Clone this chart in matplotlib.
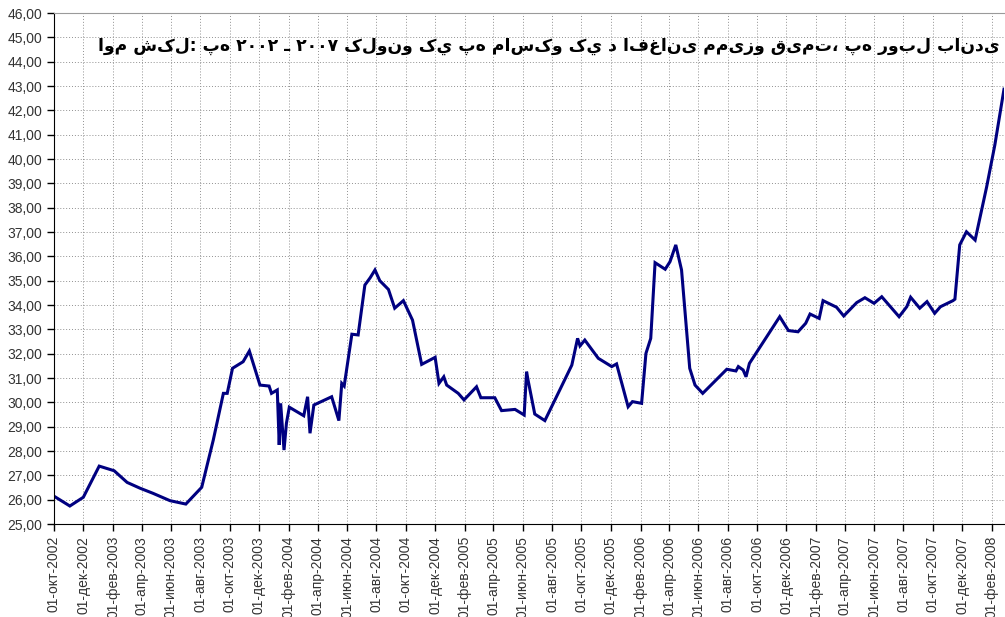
import matplotlib
matplotlib.use('Agg')
import matplotlib.pyplot as plt
import numpy as np
import pandas as pd

# afghani price in moscow, rubles
dates = ['2002-10-03', '2002-11-03', '2002-12-01', '2003-01-03', '2003-02-03',
         '2003-03-02', '2003-03-29', '2003-04-25', '2003-05-30', '2003-07-02',
         '2003-08-04', '2003-08-28', '2003-09-18', '2003-09-26', '2003-10-07',
         '2003-10-29', '2003-11-11', '2003-12-03', '2003-12-22', '2003-12-27',
         '2004-01-08', '2004-01-12', '2004-01-15', '2004-01-22', '2004-01-27',
         '2004-02-02', '2004-03-03', '2004-03-11', '2004-03-16', '2004-03-24',
         '2004-04-30', '2004-05-15', '2004-05-21', '2004-05-26', '2004-06-11',
         '2004-06-24', '2004-07-08', '2004-07-19', '2004-07-29', '2004-08-08',
         '2004-08-26', '2004-09-08', '2004-09-26', '2004-10-15', '2004-11-03',
         '2004-12-01', '2004-12-09', '2004-12-19', '2004-12-25', '2005-01-18',
         '2005-01-30', '2005-02-25', '2005-03-06', '2005-04-04', '2005-04-18',
         '2005-05-16', '2005-06-04', '2005-06-09', '2005-06-12', '2005-06-26',
         '2005-07-17', '2005-08-17', '2005-09-11', '2005-09-23', '2005-09-28',
         '2005-10-08', '2005-11-05', '2005-12-03', '2005-12-13', '2006-01-06',
         '2006-01-15', '2006-02-03', '2006-02-12', '2006-02-22', '2006-03-03',
         '2006-03-24', '2006-04-03', '2006-04-15', '2006-04-27', '2006-05-14',
         '2006-05-25', '2006-06-10', '2006-07-30', '2006-08-18', '2006-08-23',
         '2006-09-02', '2006-09-08', '2006-09-15', '2006-11-17', '2006-12-05',
         '2006-12-25', '2007-01-10', '2007-01-19', '2007-02-07', '2007-02-15',
         '2007-03-15', '2007-03-30', '2007-04-26', '2007-05-13', '2007-06-01',
         '2007-06-17', '2007-07-23', '2007-08-08', '2007-08-16', '2007-09-04',
         '2007-09-19', '2007-10-05', '2007-10-17', '2007-11-12', '2007-11-16',
         '2007-11-26', '2007-12-10', '2007-12-28', '2008-01-21', '2008-02-07',
         '2008-02-26']
price = [26.12, 25.74, 26.10, 27.38, 27.19, 26.71, 26.47, 26.26, 25.96, 25.82,
         26.51, 28.45, 30.37, 30.37, 31.40, 31.67, 32.11, 30.71, 30.67, 30.37,
         30.51, 28.25, 29.96, 28.04, 29.14, 29.80, 29.45, 30.23, 28.73, 29.89,
         30.23, 29.25, 30.78, 30.67, 32.80, 32.77, 34.82, 35.12, 35.44, 35.00,
         34.64, 33.87, 34.18, 33.38, 31.56, 31.85, 30.78, 31.05, 30.71, 30.37,
         30.10, 30.64, 30.19, 30.19, 29.66, 29.71, 29.48, 31.26, 30.92, 29.52,
         29.25, 30.51, 31.53, 32.63, 32.32, 32.56, 31.81, 31.47, 31.58, 29.82,
         30.03, 29.96, 32.01, 32.63, 35.74, 35.47, 35.78, 36.47, 35.44, 31.40,
         30.71, 30.37, 31.36, 31.29, 31.47, 31.33, 31.05, 31.60, 33.52, 32.95,
         32.90, 33.25, 33.63, 33.45, 34.18, 33.91, 33.55, 34.10, 34.30, 34.07,
         34.34, 33.52, 33.93, 34.32, 33.87, 34.14, 33.66, 33.93, 34.18, 34.24,
         36.47, 37.01, 36.67, 38.86, 40.58, 42.87]

ru_months = ['янв', 'фев', 'мар', 'апр', 'май', 'июн',
             'июл', 'авг', 'сен', 'окт', 'ноя', 'дек']
title = 'اوم شکل: په ۲۰۰۲ ـ ۲۰۰۷ کلونو کي په ماسکو کي د افغانی ممیزو قیمت، په روبل باندی'

x = pd.to_datetime(dates)

fig = plt.figure(figsize=(10.05, 6.17), dpi=100)
ax = fig.add_axes([0.0537, 0.1507, 0.9453, 0.8282])

ax.plot(x, price, color='#000080', linewidth=2.2, solid_joinstyle='miter')

ax.set_ylim(25, 46)
ax.set_yticks(np.arange(25, 47, 1))
ax.yaxis.set_major_formatter(plt.FuncFormatter(lambda v, p: ('%.2f' % v).replace('.', ',')))

ax.set_xlim(pd.Timestamp('2002-10-01'), pd.Timestamp('2008-02-26'))
ticks = pd.date_range('2002-10-01', '2008-02-01', freq='2MS')
ax.set_xticks(ticks)
ax.set_xticklabels(['01-%s-%d' % (ru_months[t.month - 1], t.year) for t in ticks],
                   rotation=90)

ax.grid(True, color='#909090', linestyle=(0, (1, 2)), linewidth=0.7)
ax.set_axisbelow(True)
ax.spines['right'].set_visible(False)
ax.spines['top'].set_color('#9a9a9a')
ax.tick_params(direction='out', length=5, width=1, colors='black',
               labelcolor='#333333', labelsize=10)
for lab in ax.get_xticklabels() + ax.get_yticklabels():
    lab.set_family(['Liberation Sans', 'DejaVu Sans'])

t = fig.text(0.995, 0.926, title, ha='right', va='center', fontsize=17,
             fontweight='bold', family=['DejaVu Sans'])
# fit the title to roughly the width it takes in the reference
fig.canvas.draw()
w = t.get_window_extent().width
t.set_fontsize(17 * 905.0 / w)

fig.savefig('out.png', dpi=100)
